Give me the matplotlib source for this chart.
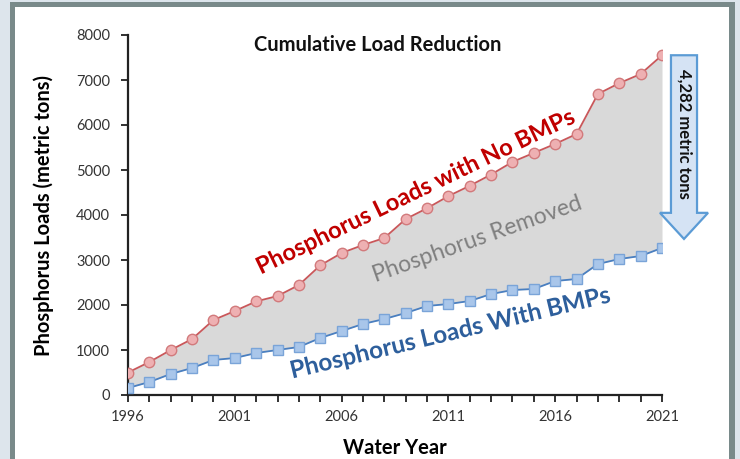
import matplotlib
matplotlib.use("Agg")
import matplotlib.pyplot as plt
import matplotlib.patheffects as pe
from matplotlib.patches import Rectangle, FancyArrow
import numpy as np

plt.rcParams['font.family'] = ['Lato', 'DejaVu Sans']

# cumulative loads (metric tons)
years = list(range(1996, 2022))
no_bmps = [500, 733, 1000, 1244, 1667, 1867, 2080, 2200, 2444, 2880, 3156, 3333,
           3489, 3910, 4150, 4420, 4650, 4900, 5180, 5380, 5580, 5800, 6690, 6930,
           7133, 7550]
with_bmps = [156, 289, 467, 600, 778, 822, 933, 1000, 1067, 1267, 1422, 1578,
             1689, 1822, 1978, 2022, 2089, 2244, 2333, 2356, 2533, 2578, 2911, 3022,
             3089, 3268]
removed = no_bmps[-1] - with_bmps[-1]  # ~4,282
xticks = [1996, 2001, 2006, 2011, 2016, 2021]

fig = plt.figure(figsize=(7.4, 4.59), dpi=100)
fig.patch.set_facecolor('#dde5ec')
# panel border + white card
fig.add_artist(Rectangle((10/740, 0), 725/740, 1 - 2/459, transform=fig.transFigure,
                         facecolor='#798a8a', edgecolor='none', zorder=0))
fig.add_artist(Rectangle((15/740, 0), 714/740, 1 - 7/459, transform=fig.transFigure,
                         facecolor='white', edgecolor='none', zorder=0))

ax = fig.add_axes([128/740, 1 - 395/459, 534/740, 360/459])
ax.set_facecolor('none')

ax.fill_between(years, with_bmps, no_bmps, color='#d9d9d9', linewidth=0, zorder=1)
ax.plot(years, no_bmps, color='#c9575a', lw=1.3, marker='o', ms=7.5,
        mfc='#eeb0b2', mec='#d27a7c', mew=1.0, zorder=5)
ax.plot(years, with_bmps, color='#4a7fc0', lw=1.3, marker='s', ms=7.5,
        mfc='#a9c6ea', mec='#7aa4d8', mew=1.0, zorder=5)

ax.set_xlim(1996, 2021)
ax.set_ylim(0, 8000)
ax.set_yticks(np.arange(0, 8001, 1000))
ax.set_xticks(xticks)
ax.set_xticks(years, minor=True)
ax.spines['top'].set_visible(False)
ax.spines['right'].set_visible(False)
for s in ['left', 'bottom']:
    ax.spines[s].set_linewidth(1.6)
    ax.spines[s].set_color('#222222')
ax.tick_params(axis='both', which='both', direction='out', length=5, width=1.3,
               color='#222222', labelsize=10.5, labelcolor='#333333')
ax.tick_params(axis='x', pad=6)
ax.tick_params(axis='y', pad=8)

ax.set_ylabel('Phosphorus Loads (metric tons)', fontsize=14.5, fontweight='bold', labelpad=16)
ax.set_xlabel('Water Year', fontsize=14.5, fontweight='bold', labelpad=10)

ax.text(2007.7, 7780, 'Cumulative Load Reduction', fontsize=14.5, fontweight='bold',
        ha='center', va='center', color='#111111')

halo = [pe.withStroke(linewidth=3.5, foreground='white')]
ax.text(2009.45, 4520, 'Phosphorus Loads with No BMPs', fontsize=17, fontweight='bold',
        color='#c00000', rotation=25.8, ha='center', va='center', rotation_mode='anchor',
        path_effects=halo, zorder=4)
ax.text(2012.34, 3467, 'Phosphorus Removed', fontsize=16.5, color='#7f7f7f',
        rotation=19.5, ha='center', va='center', rotation_mode='anchor', zorder=2)
ax.text(2011.07, 1378, 'Phosphorus Loads With BMPs', fontsize=17.5, fontweight='bold',
        color='#2e5f9c', rotation=13.5, ha='center', va='center', rotation_mode='anchor',
        path_effects=halo, zorder=4)

# reduction arrow to the right of the plot
arr = FancyArrow(2022.03, no_bmps[-1], 0, -(no_bmps[-1] - with_bmps[-1] - 200),
                 width=1.22, head_width=2.25, head_length=580,
                 length_includes_head=True, facecolor='#d5e3f4', edgecolor='#5b9bd5',
                 lw=1.6, clip_on=False, zorder=4)
ax.add_patch(arr)
ax.text(2022.03, 5800, f'{removed:,} metric tons', rotation=-90, fontsize=12,
        fontweight='bold', ha='center', va='center', color='#111111',
        clip_on=False, zorder=5)

fig.savefig('out.png', dpi=100)
